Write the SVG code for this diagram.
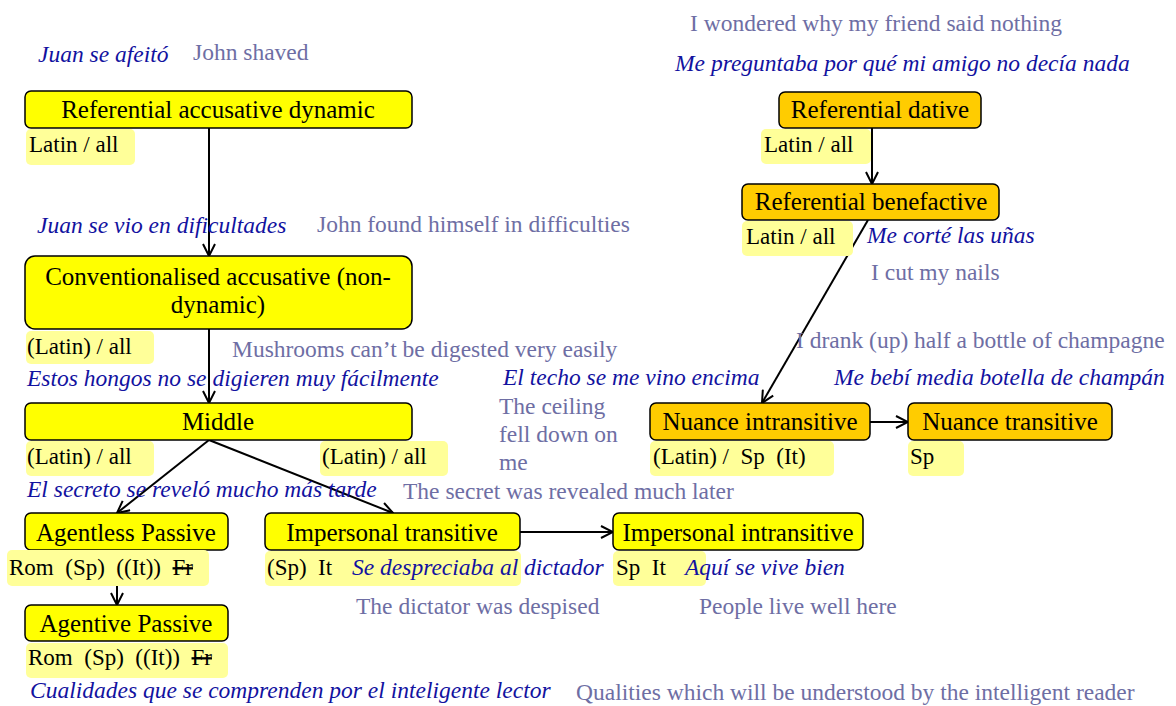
<svg xmlns="http://www.w3.org/2000/svg" width="1176" height="706" viewBox="0 0 1176 706">
<style>
text{font-family:"Liberation Serif","Times New Roman",serif}
.n{stroke:#000;stroke-width:1.5}
.y{fill:#FFFF00}
.o{fill:#FFCC00}
.lb{fill:#FFFF99}
.nt{font-size:25px;fill:#000;text-anchor:middle}
.lt{font-size:23px;fill:#000}
.es{font-size:23.5px;fill:#1212A0;font-style:italic}
.en{font-size:23.5px;fill:#6E6EA4}
.c{stroke:#000;stroke-width:2;fill:none;marker-end:url(#ah)}
</style>
<defs>
<marker id="ah" viewBox="0 0 14 14" refX="13" refY="7" markerWidth="14" markerHeight="14" markerUnits="userSpaceOnUse" orient="auto">
<path d="M1,1 L13,7 L1,13" fill="none" stroke="#000" stroke-width="2"/>
</marker>
</defs>
<rect width="1176" height="706" fill="#fff"/>

<g id="connectors">
<line class="c" x1="209" y1="128" x2="209" y2="256"/>
<line class="c" x1="209" y1="329" x2="209" y2="403"/>
<line class="c" x1="209" y1="440" x2="117" y2="513"/>
<line class="c" x1="209" y1="440" x2="393" y2="513"/>
<line class="c" x1="117" y1="550" x2="117" y2="605"/>
<line class="c" x1="520" y1="532" x2="613" y2="532"/>
<line class="c" x1="872" y1="128" x2="872" y2="184"/>
<line class="c" x1="868" y1="220" x2="762" y2="403"/>
<line class="c" x1="870" y1="422" x2="908" y2="422"/>
</g>

<g id="ref-acc-dyn">
<rect class="n y" x="25" y="91" width="387" height="37" rx="6"/>
<text class="nt" x="218" y="118">Referential accusative dynamic</text>
<rect class="lb" x="26" y="129" width="109" height="36" rx="5"/>
<text class="lt" x="29" y="152">Latin / all</text>
</g>

<g id="conv-acc">
<rect class="n y" x="25" y="256" width="387" height="73" rx="10"/>
<text class="nt" x="218" y="285">Conventionalised accusative (non-</text>
<text class="nt" x="218" y="313">dynamic)</text>
<rect class="lb" x="26" y="331" width="128" height="33" rx="5"/>
<text class="lt" x="27" y="354">(Latin) / all</text>
</g>

<g id="middle">
<rect class="n y" x="25" y="403" width="387" height="37" rx="6"/>
<text class="nt" x="218" y="430">Middle</text>
<rect class="lb" x="26" y="441" width="128" height="35" rx="5"/>
<text class="lt" x="27" y="464">(Latin) / all</text>
<rect class="lb" x="320" y="441" width="128" height="35" rx="5"/>
<text class="lt" x="322" y="464">(Latin) / all</text>
</g>

<g id="agentless-passive">
<rect class="n y" x="25" y="513" width="203" height="37" rx="6"/>
<text class="nt" x="126" y="541">Agentless Passive</text>
<rect class="lb" x="7" y="550" width="202" height="36" rx="5"/>
<text class="lt" x="9" y="575" xml:space="preserve">Rom  (Sp)  ((It))  <tspan text-decoration="line-through">Fr</tspan></text>
</g>

<g id="agentive-passive">
<rect class="n y" x="25" y="605" width="203" height="36" rx="6"/>
<text class="nt" x="126" y="632">Agentive Passive</text>
<rect class="lb" x="26" y="643" width="202" height="35" rx="5"/>
<text class="lt" x="28" y="665" xml:space="preserve">Rom  (Sp)  ((It))  <tspan text-decoration="line-through">Fr</tspan></text>
</g>

<g id="impersonal-transitive">
<rect class="n y" x="265" y="513" width="255" height="37" rx="6"/>
<text class="nt" x="392" y="541">Impersonal transitive</text>
<rect class="lb" x="265" y="551" width="256" height="35" rx="5"/>
<text class="lt" x="267" y="575" xml:space="preserve">(Sp)  It</text>
</g>

<g id="impersonal-intransitive">
<rect class="n y" x="613" y="513" width="250" height="37" rx="6"/>
<text class="nt" x="738" y="541">Impersonal intransitive</text>
<rect class="lb" x="613" y="551" width="93" height="35" rx="5"/>
<text class="lt" x="616" y="575" xml:space="preserve">Sp  It</text>
</g>

<g id="ref-dative">
<rect class="n o" x="779" y="92" width="202" height="36" rx="6"/>
<text class="nt" x="880" y="118">Referential dative</text>
<rect class="lb" x="761" y="129" width="110" height="35" rx="5"/>
<text class="lt" x="764" y="152">Latin / all</text>
</g>

<g id="ref-benefactive">
<rect class="n o" x="742" y="184" width="257" height="36" rx="6"/>
<text class="nt" x="871" y="210">Referential benefactive</text>
<rect class="lb" x="742" y="221" width="111" height="35" rx="5"/>
<text class="lt" x="746" y="244">Latin / all</text>
</g>

<g id="nuance-intransitive">
<rect class="n o" x="650" y="403" width="220" height="37" rx="6"/>
<text class="nt" x="760" y="430">Nuance intransitive</text>
<rect class="lb" x="650" y="441" width="184" height="35" rx="5"/>
<text class="lt" x="653" y="464" xml:space="preserve">(Latin) /  Sp  (It)</text>
</g>

<g id="nuance-transitive">
<rect class="n o" x="908" y="403" width="204" height="37" rx="6"/>
<text class="nt" x="1010" y="430">Nuance transitive</text>
<rect class="lb" x="908" y="441" width="56" height="35" rx="5"/>
<text class="lt" x="910" y="464">Sp</text>
</g>

<g id="examples">
<text class="es" x="38" y="62">Juan se afeitó</text>
<text class="en" x="193" y="60">John shaved</text>
<text class="es" x="37" y="233">Juan se vio en dificultades</text>
<text class="en" x="317" y="232">John found himself in difficulties</text>
<text class="en" x="232" y="357">Mushrooms can’t be digested very easily</text>
<text class="es" x="27" y="386">Estos hongos no se digieren muy fácilmente</text>
<text class="es" x="27" y="497">El secreto se reveló mucho más tarde</text>
<text class="en" x="403" y="499">The secret was revealed much later</text>
<text class="es" x="352" y="575">Se despreciaba al dictador</text>
<text class="en" x="356" y="614">The dictator was despised</text>
<text class="es" x="685" y="575">Aquí se vive bien</text>
<text class="en" x="699" y="614">People live well here</text>
<text class="es" x="30" y="698">Cualidades que se comprenden por el inteligente lector</text>
<text class="en" x="576" y="700">Qualities which will be understood by the intelligent reader</text>
<text class="en" x="690" y="31">I wondered why my friend said nothing</text>
<text class="es" x="675" y="71">Me preguntaba por qué mi amigo no decía nada</text>
<text class="es" x="867" y="243">Me corté las uñas</text>
<text class="en" x="871" y="280">I cut my nails</text>
<text class="en" x="796" y="348">I drank (up) half a bottle of champagne</text>
<text class="es" x="834" y="385">Me bebí media botella de champán</text>
<text class="es" x="503" y="385">El techo se me vino encima</text>
<text class="en" x="499" y="414">The ceiling</text>
<text class="en" x="499" y="442">fell down on</text>
<text class="en" x="499" y="470">me</text>
</g>
</svg>
